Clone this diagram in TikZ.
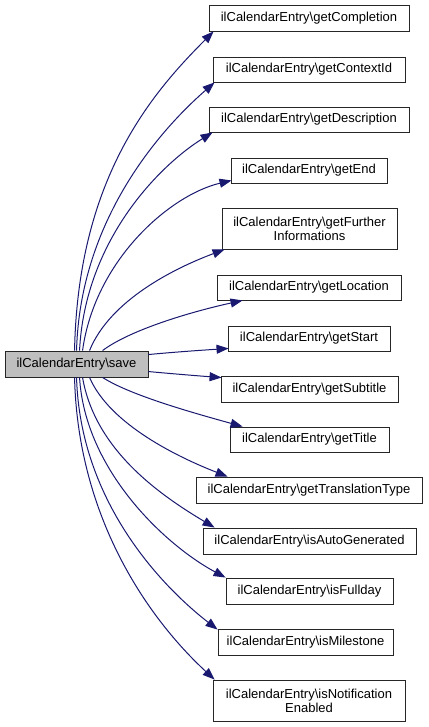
\documentclass[tikz,border=0pt]{standalone}
\usepackage{fontspec}
\setmainfont{Liberation Sans}
\usetikzlibrary{arrows.meta,calc}
\definecolor{edgeblue}{RGB}{25,25,112}
\definecolor{srcgray}{RGB}{191,191,191}
\begin{document}
\begin{tikzpicture}[x=1pt,y=-1pt,
  fn/.style={draw=black!85,line width=0.9pt,fill=white,inner sep=0pt,align=center,
    font=\fontsize{13}{14}\selectfont},
  src/.style={fn,fill=srcgray},
  call/.style={draw=edgeblue,line width=1pt,-{Triangle[length=12pt,width=9pt,fill=edgeblue]}}]
\useasboundingbox (0,0) rectangle (428,727);
\node[src,minimum width=143pt,minimum height=26pt] (s) at (76.5,364) {ilCalendarEntry\textbackslash save};
\node[fn,minimum width=200pt,minimum height=26pt] (t1) at (309,18) {ilCalendarEntry\textbackslash getCompletion};
\node[fn,minimum width=192pt,minimum height=25pt] (t2) at (309,69.5) {ilCalendarEntry\textbackslash getContextId};
\node[fn,minimum width=200pt,minimum height=25pt] (t3) at (309,119.5) {ilCalendarEntry\textbackslash getDescription};
\node[fn,minimum width=156pt,minimum height=25pt] (t4) at (309,170.5) {ilCalendarEntry\textbackslash getEnd};
\node[fn,minimum width=175pt,minimum height=41pt] (t5) at (309.5,228.5) {ilCalendarEntry\textbackslash getFurther\\Informations};
\node[fn,minimum width=184pt,minimum height=25pt] (t6) at (309,287.5) {ilCalendarEntry\textbackslash getLocation};
\node[fn,minimum width=162pt,minimum height=25pt] (t7) at (309,338.5) {ilCalendarEntry\textbackslash getStart};
\node[fn,minimum width=177pt,minimum height=26pt] (t8) at (309.5,389) {ilCalendarEntry\textbackslash getSubtitle};
\node[fn,minimum width=159pt,minimum height=25pt] (t9) at (309.5,439.5) {ilCalendarEntry\textbackslash getTitle};
\node[fn,minimum width=226pt,minimum height=26pt] (t10) at (309,490) {ilCalendarEntry\textbackslash getTranslationType};
\node[fn,minimum width=213pt,minimum height=26pt] (t11) at (309.5,541) {ilCalendarEntry\textbackslash isAutoGenerated};
\node[fn,minimum width=167pt,minimum height=26pt] (t12) at (309.5,591) {ilCalendarEntry\textbackslash isFullday};
\node[fn,minimum width=175pt,minimum height=26pt] (t13) at (305.5,642) {ilCalendarEntry\textbackslash isMilestone};
\node[fn,minimum width=192pt,minimum height=41pt] (t14) at (309,700.5) {ilCalendarEntry\textbackslash isNotification\\Enabled};
% connectors
\draw[call] ($(s.north west)+(70,0)$) .. controls (78,180) and (150,95) .. ($(t1.south west)+(5,0)$);
\draw[call] ($(s.north west)+(72,0)$) .. controls (80,220) and (160,130) .. ($(t2.south west)+(2,0)$);
\draw[call] ($(s.north west)+(75,0)$) .. controls (85,240) and (160,165) .. ($(t3.south west)+(4,0)$);
\draw[call] ($(s.north west)+(78,0)$) .. controls (95,260) and (170,195) .. ($(t4.south west)+(1,-3)$);
\draw[call] ($(s.north west)+(85,0)$) .. controls (110,300) and (175,268) .. ($(t5.south west)+(3,0)$);
\draw[call] ($(s.north west)+(98,0)$) .. controls (130,330) and (190,312) .. ($(t6.south west)+(26,0)$);
\draw[call] ($(s.north east)+(0,4)$) .. controls (175,352) and (205,350) .. ($(t7.south west)+(1,-3)$);
\draw[call] ($(s.north east)+(0,21)$) .. controls (175,374) and (200,376) .. ($(t8.north west)+(1,2)$);
\draw[call] ($(s.south west)+(98,0)$) .. controls (130,395) and (190,412) .. ($(t9.north west)+(13,0)$);
\draw[call] ($(s.south west)+(85,0)$) .. controls (110,425) and (180,458) .. ($(t10.north west)+(32,0)$);
\draw[call] ($(s.south west)+(78,0)$) .. controls (95,450) and (160,495) .. ($(t11.north west)+(12,0)$);
\draw[call] ($(s.south west)+(75,0)$) .. controls (85,470) and (165,545) .. ($(t12.north west)+(0,0)$);
\draw[call] ($(s.south west)+(72,0)$) .. controls (80,500) and (160,585) .. ($(t13.north west)+(0,1)$);
\draw[call] ($(s.south west)+(70,0)$) .. controls (78,520) and (150,620) .. ($(t14.north west)+(2,0)$);
\end{tikzpicture}
\end{document}
